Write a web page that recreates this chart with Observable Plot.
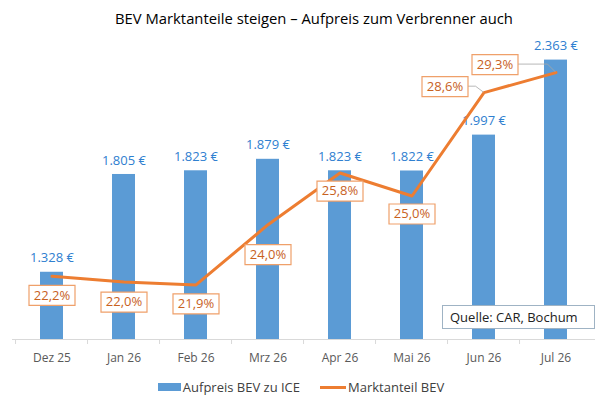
<!DOCTYPE html>
<html><head><meta charset="utf-8">
<script src="https://cdn.jsdelivr.net/npm/d3@7"></script>
<script src="https://cdn.jsdelivr.net/npm/@observablehq/plot@0.6"></script>
<style>
body{margin:0;background:#fff;font-family:"Open Sans",sans-serif;}
#wrap{position:relative;width:606px;height:404px;overflow:hidden;}
#title{height:36px;line-height:36px;text-align:center;font-size:14.8px;color:#000;padding-left:22px;}
#chart svg{display:block;}
#legend{height:34px;display:flex;align-items:center;justify-content:center;font-size:13px;color:#404040;padding-right:4px;}
#legend .sw{display:inline-block;width:23px;height:8px;background:#5B9BD5;margin-right:2px;}
#legend .ln{display:inline-block;width:26px;height:3px;background:#ED7D31;margin-left:20px;margin-right:2px;}
#source{position:absolute;left:442px;top:305px;width:144px;height:22px;border:1px solid #9fb3c4;background:#fff;font-size:13px;line-height:22px;color:#222;padding-left:7px;box-sizing:content-box;white-space:nowrap;}
</style></head><body>
<div id="wrap">
<div id="title">BEV Marktanteile steigen – Aufpreis zum Verbrenner auch</div>
<div id="chart"></div>
<div id="legend"><span class="sw"></span><span>Aufpreis BEV zu ICE</span><span class="ln"></span><span>Marktanteil BEV</span></div>
<div id="source">Quelle: CAR, Bochum</div>
</div>
<script>
const months = ["Dez 25","Jan 26","Feb 26","Mrz 26","Apr 26","Mai 26","Jun 26","Jul 26"];
const aufpreis = [1328,1805,1823,1879,1823,1822,1997,2363];
const marktanteil = [22.2,22.0,21.9,24.0,25.8,25.0,28.6,29.3];
const priceDomain = [1000, 2400];
const shareDomain = [20, 30];

// label box placement (layout, px) relative to line point
const labelOffset = [[0,19],[0,20],[0,19],[0,30],[0,18],[0,18],[-39,-6],[-61,-8]];

const de = d3.formatLocale({decimal:",", thousands:".", grouping:[3], currency:["",""]});
const fmtPrice = v => de.format(",.0f")(v) + " €";
const fmtShare = v => de.format(".1f")(v) + "%";
const toPrice = d3.scaleLinear(shareDomain, priceDomain);

const data = months.map((m,i)=>({month:m, price:aufpreis[i], share:marktanteil[i], shareY:toPrice(marktanteil[i])}));

const boxSymbol = {draw(ctx){ctx.moveTo(-23,-10);ctx.lineTo(23,-10);ctx.lineTo(23,10);ctx.lineTo(-23,10);ctx.closePath();}};

const leaders = (index, scales) => {
  const g = d3.create("svg:g");
  const bw = scales.x.bandwidth ? scales.x.bandwidth()/2 : 0;
  data.forEach((d,i)=>{
    const [dx,dy] = labelOffset[i];
    if (dx === 0) return;
    const px = scales.x(d.month) + bw, py = scales.y(d.shareY);
    const pts = [[px+dx+23, py+dy],[px-8, py+dy],[px, py]];
    g.append("path").attr("d", d3.line()(pts)).attr("fill","none").attr("stroke","#a6a6a6").attr("stroke-width",0.8);
  });
  return g.node();
};

const boxMarks = data.flatMap((d,i)=>[
  Plot.dot([d], {x:"month", y:"shareY", symbol: boxSymbol, r: 5, fill:"#fff", stroke:"#EFA06A", strokeWidth:1.2, dx: labelOffset[i][0], dy: labelOffset[i][1]}),
  Plot.text([d], {x:"month", y:"shareY", text: d=>fmtShare(d.share), fill:"#C8611E", fontSize:13, dx: labelOffset[i][0], dy: labelOffset[i][1]})
]);

const plot = Plot.plot({
  width: 606, height: 334,
  marginTop: 16, marginBottom: 31, marginLeft: 12, marginRight: 11,
  style: {fontFamily: "'Open Sans', sans-serif", background: "#fff"},
  x: {domain: months, paddingInner: 0.68, paddingOuter: 0.34, label: null},
  y: {domain: priceDomain, axis: null, label: null},
  marks: [
    Plot.barY(data, {x:"month", y1: priceDomain[0], y2:"price", fill:"#5B9BD5"}),
    Plot.ruleY([priceDomain[0]], {stroke:"#d9d9d9"}),
    Plot.axisX({tickSize: 5, tickFormat: () => "", dx: -36.45, stroke:"#d9d9d9", label: null}),
    Plot.axisX({tickSize: 0, tickPadding: 14, fontSize: 12, color:"#595959", label: null}),
    Plot.text(data, {x:"month", y:"price", text: d=>fmtPrice(d.price), dy:-14, fill:"#2F80D0", fontSize:13}),
    Plot.line(data, {x:"month", y:"shareY", stroke:"#ED7D31", strokeWidth:3}),
    leaders,
    ...boxMarks
  ]
});
document.getElementById("chart").appendChild(plot);
</script>
</body></html>
